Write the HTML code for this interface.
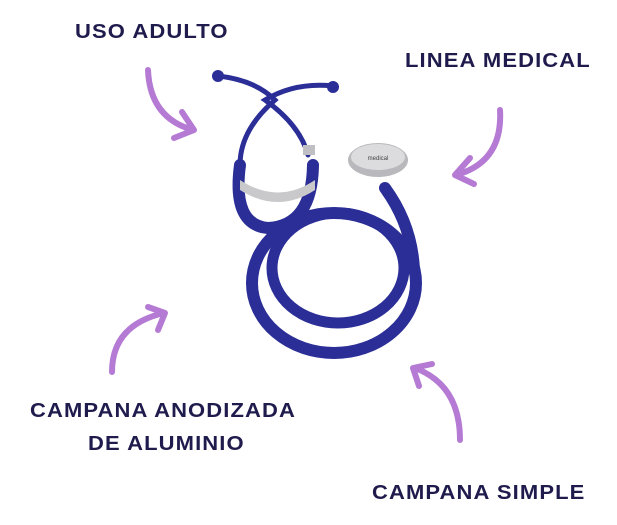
<!DOCTYPE html>
<html><head><style>
body{margin:0;width:617px;height:525px;background:#fff;overflow:hidden;position:relative;font-family:"Liberation Sans",sans-serif}
.t{position:absolute;font-weight:bold;color:#1f1c4d;font-size:20px;letter-spacing:1px;white-space:nowrap;transform:scaleX(1.1);transform-origin:left center}
</style></head><body>
<div class="t" style="left:75px;top:21px">USO ADULTO</div>
<div class="t" style="left:405px;top:50px">LINEA MEDICAL</div>
<div class="t" style="left:30px;top:400px">CAMPANA ANODIZADA</div>
<div class="t" style="left:88px;top:433px">DE ALUMINIO</div>
<div class="t" style="left:372px;top:482px">CAMPANA SIMPLE</div>
<svg width="617" height="525" style="position:absolute;left:0;top:0">
<g fill="none" stroke="#b57bd4" stroke-width="6" stroke-linecap="round" stroke-linejoin="round">
<path d="M148 70 Q150 118 193 130"/><path d="M182 112 L194 130 L174 138"/>
<path d="M500 110 Q503 162 456 175"/><path d="M470 158 L455 175 L474 184"/>
<path d="M112 372 Q112 325 164 313"/><path d="M148 307 L165 313 L158 330"/>
<path d="M460 440 Q460 385 415 368"/><path d="M419 386 L413 368 L432 364"/>
</g>
<g fill="none" stroke="#2a2e96" stroke-linecap="round">
<path d="M218 76 Q255 80 275 100 Q240 130 240 165" stroke-width="5"/>
<path d="M333 86 Q295 82 265 100 Q300 125 308 155" stroke-width="5"/>
<path d="M240 165 Q232 225 268 228 Q312 226 313 165" stroke-width="12"/>
<ellipse cx="334" cy="283" rx="82" ry="70" stroke-width="12"/>
<ellipse cx="338" cy="268" rx="66" ry="55" stroke-width="11"/>
<path d="M385 188 Q412 225 414 270" stroke-width="12"/>
</g>
<path d="M240 180 Q278 205 315 180 L315 190 Q278 214 240 190Z" fill="#c9c9cc"/>
<rect x="303" y="145" width="12" height="10" fill="#c0c0c4"/>
<circle cx="218" cy="76" r="6" fill="#2a2e96"/><circle cx="333" cy="87" r="6" fill="#2a2e96"/>
<ellipse cx="378" cy="160" rx="30" ry="17" fill="#b9b9bd"/>
<ellipse cx="378" cy="157" rx="27" ry="13" fill="#dcdcdf"/>
<text x="378" y="160" font-size="6" fill="#444" text-anchor="middle" font-family="Liberation Sans">medical</text>
</svg>
</body></html>
